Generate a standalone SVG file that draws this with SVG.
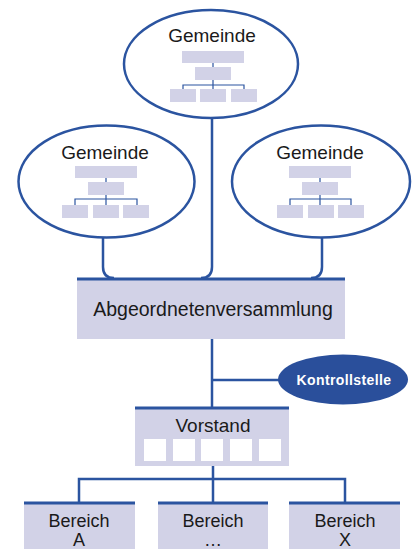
<svg xmlns="http://www.w3.org/2000/svg" width="415" height="549" viewBox="0 0 415 549">
<style>
.ell{fill:#fff;stroke:#2b54a0;stroke-width:2.5}
.box{fill:#d2d2e7}
.mini{fill:#d2d2e7}
.top{stroke:#2b54a0;stroke-width:3}
.ln{fill:none;stroke:#2b54a0;stroke-width:2.5}
.mln{fill:none;stroke:#2b54a0;stroke-width:1.2}
.t{font-family:"Liberation Sans",Arial,sans-serif;font-size:18px;fill:#1a1a1a;text-anchor:middle}
.g{font-size:19px}
.k{font-family:"Liberation Sans",Arial,sans-serif;font-size:14px;letter-spacing:0.4px;font-weight:bold;fill:#fff;text-anchor:middle}
.sq{fill:#fff}
</style>
<rect width="415" height="549" fill="#fff"/>
<g id="connectors">
<path class="ln" d="M103,236 V267 Q103,278 114,278"/>
<path class="ln" d="M212,117 V267 Q212,278 201,278"/>
<path class="ln" d="M322,236 V267 Q322,278 311,278"/>
<path class="ln" d="M212,339 V407"/>
<path class="ln" d="M212,380 H282"/>
<path class="ln" d="M213,466 V479 M79,502 V479 H345 V502 M213,479 V502"/>
</g>
<g id="gemeinde-top">
<ellipse class="ell" cx="211" cy="64" rx="87" ry="54"/>
<text class="t g" x="212" y="42">Gemeinde</text>
<rect class="mini" x="182" y="51" width="62" height="12"/>
<rect class="mini" x="195" y="67" width="36" height="13"/>
<path class="mln" d="M213,63 V67 M213,80 V89 M183,89 V85 H244 V89"/>
<rect class="mini" x="170" y="89" width="26" height="13"/>
<rect class="mini" x="200" y="89" width="26" height="13"/>
<rect class="mini" x="231" y="89" width="26" height="13"/>
</g>
<g id="gemeinde-left">
<ellipse class="ell" cx="106.5" cy="181.5" rx="88" ry="56"/>
<text class="t g" x="105" y="159">Gemeinde</text>
<rect class="mini" x="75" y="166" width="62" height="12"/>
<rect class="mini" x="88" y="182" width="36" height="13"/>
<path class="mln" d="M106,178 V182 M106,195 V205 M75,205 V199 H137 V205"/>
<rect class="mini" x="62" y="205" width="26" height="13"/>
<rect class="mini" x="93" y="205" width="26" height="13"/>
<rect class="mini" x="123" y="205" width="26" height="13"/>
</g>
<g id="gemeinde-right">
<ellipse class="ell" cx="321" cy="181.5" rx="89" ry="56"/>
<text class="t g" x="320" y="159">Gemeinde</text>
<rect class="mini" x="289" y="166" width="62" height="12"/>
<rect class="mini" x="302" y="182" width="36" height="13"/>
<path class="mln" d="M320,178 V182 M320,195 V205 M290,205 V199 H351 V205"/>
<rect class="mini" x="277" y="205" width="26" height="13"/>
<rect class="mini" x="308" y="205" width="26" height="13"/>
<rect class="mini" x="338" y="205" width="26" height="13"/>
</g>
<g id="abgeordnetenversammlung">
<rect class="box" x="77" y="278" width="268" height="61"/>
<line class="top" x1="77" y1="279" x2="345" y2="279"/>
<text class="t" x="213" y="316" style="font-size:19.5px">Abgeordnetenversammlung</text>
</g>
<g id="kontrollstelle">
<ellipse cx="343" cy="379.5" rx="65" ry="25" fill="#2a4f9b"/>
<text class="k" x="344" y="385">Kontrollstelle</text>
</g>
<g id="vorstand">
<rect class="box" x="135" y="407" width="154" height="59"/>
<line class="top" x1="135" y1="408" x2="289" y2="408"/>
<text class="t g" x="213" y="432">Vorstand</text>
<rect class="sq" x="144" y="439" width="22" height="22"/>
<rect class="sq" x="173" y="439" width="22" height="22"/>
<rect class="sq" x="201" y="439" width="22" height="22"/>
<rect class="sq" x="230" y="439" width="22" height="22"/>
<rect class="sq" x="259" y="439" width="22" height="22"/>
</g>
<g id="bereich-a">
<rect class="box" x="24" y="502" width="111" height="47"/>
<line class="top" x1="24" y1="503" x2="135" y2="503"/>
<text class="t" x="79" y="527">Bereich</text>
<text class="t" x="79" y="546">A</text>
</g>
<g id="bereich-mid">
<rect class="box" x="158" y="502" width="110" height="47"/>
<line class="top" x1="158" y1="503" x2="268" y2="503"/>
<text class="t" x="213" y="527">Bereich</text>
<text class="t" x="213" y="546">…</text>
</g>
<g id="bereich-x">
<rect class="box" x="289" y="502" width="111" height="47"/>
<line class="top" x1="289" y1="503" x2="400" y2="503"/>
<text class="t" x="345" y="527">Bereich</text>
<text class="t" x="345" y="546">X</text>
</g>
</svg>
